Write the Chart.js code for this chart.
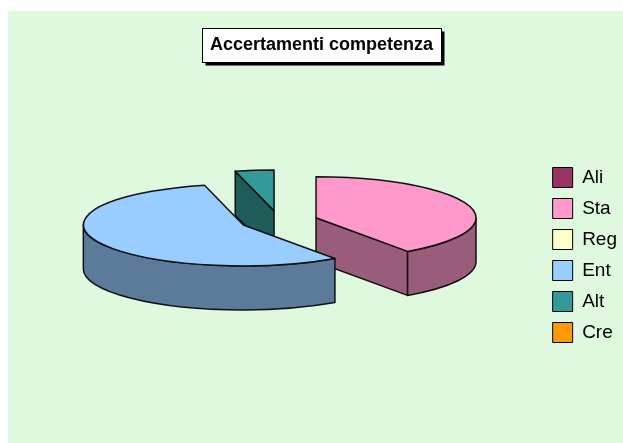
<!DOCTYPE html>
<html>
<head>
<meta charset="utf-8">
<script src="https://cdn.jsdelivr.net/npm/chart.js@4.4.1/dist/chart.umd.min.js"></script>
<style>
    html, body { margin: 0; padding: 0; background: #fff; }
    #wrap { position: absolute; left: 8px; top: 11px; width: 615px; height: 432px; background: #dff9df; }
</style>
</head>
<body>
<div id="wrap"><canvas id="pieChart" width="615" height="432"></canvas></div>
<script>
const titolo = 'Accertamenti competenza';
const categorie = ['Ali', 'Sta', 'Reg', 'Ent', 'Alt', 'Cre'];
const accertamenti = [0, 40.3, 0, 55.8, 3.9, 0];
const colori = ['#993366', '#ff99cc', '#ffffcc', '#99ccff', '#339999', '#ff9900'];

const FONT = "Arial, 'Liberation Sans', sans-serif";
const SPESSORE = 44;          // altezza del bordo della torta
const SCHIACCIA = 0.256;      // rapporto asse verticale / orizzontale

function scurisci(hex, f) {
    const n = parseInt(hex.slice(1), 16);
    const r = Math.round(((n >> 16) & 255) * f);
    const g = Math.round(((n >> 8) & 255) * f);
    const b = Math.round((n & 255) * f);
    return `rgb(${r},${g},${b})`;
}

// riquadro con ombra dietro al titolo
const riquadroTitolo = {
    id: 'riquadroTitolo',
    beforeDraw(chart) {
        const tb = chart.titleBlock;
        const opts = chart.options.plugins.title;
        const ctx = chart.ctx;
        ctx.save();
        ctx.font = `bold ${opts.font.size}px ${FONT}`;
        const w = ctx.measureText(titolo).width;
        const cx = (tb.left + tb.right) / 2;
        const cy = tb.top + opts.padding.top + opts.font.size * 1.2 / 2;
        const x = Math.round(cx - w / 2 - 8) + 0.5;
        const y = Math.round(cy - 17) + 0.5;
        const bw = Math.round(w + 16);
        const bh = 34;
        ctx.fillStyle = '#000';
        ctx.fillRect(x + 3, y + 3, bw, bh);
        ctx.fillStyle = '#fff';
        ctx.fillRect(x, y, bw, bh);
        ctx.strokeStyle = '#000';
        ctx.lineWidth = 1;
        ctx.strokeRect(x, y, bw, bh);
        ctx.restore();
    }
};

// disegna le fette come torta 3D esplosa partendo dagli archi di Chart.js
const torta3d = {
    id: 'torta3d',
    beforeDatasetsDraw(chart) {
        const ctx = chart.ctx;
        const meta = chart.getDatasetMeta(0);
        const fette = [];
        meta.data.forEach((arc, i) => {
            const s = arc.startAngle, e = arc.endAngle;
            if (e - s <= 0) return;
            const R = arc.outerRadius;
            const mid = (s + e) / 2;
            const off = arc.options.offset || 0;
            fette.push({
                s, e, R, ry: R * SCHIACCIA,
                x: arc.x + Math.cos(mid) * off,
                y: arc.y - SPESSORE / 2 + Math.sin(mid) * off * SCHIACCIA,
                colore: colori[i]
            });
        });
        fette.sort((a, b) => a.y - b.y);

        ctx.save();
        ctx.lineWidth = 1.5;
        ctx.strokeStyle = '#111';
        ctx.lineJoin = 'round';

        fette.forEach(f => {
            const lato = scurisci(f.colore, 0.6);
            const punto = a => [f.x + f.R * Math.cos(a), f.y + f.ry * Math.sin(a)];

            const parete = a => {
                const [px, py] = punto(a);
                ctx.beginPath();
                ctx.moveTo(f.x, f.y);
                ctx.lineTo(px, py);
                ctx.lineTo(px, py + SPESSORE);
                ctx.lineTo(f.x, f.y + SPESSORE);
                ctx.closePath();
                ctx.fillStyle = lato;
                ctx.fill();
                ctx.stroke();
            };
            if (Math.cos(f.s) < -0.01) parete(f.s);
            if (Math.cos(f.e) > 0.01) parete(f.e);

            // bordo esterno: solo la metà anteriore
            for (let k = -1; k <= 1; k++) {
                const a = Math.max(f.s, k * 2 * Math.PI);
                const b = Math.min(f.e, k * 2 * Math.PI + Math.PI);
                if (b <= a) continue;
                ctx.beginPath();
                ctx.ellipse(f.x, f.y, f.R, f.ry, 0, a, b);
                const [bx, by] = punto(b);
                ctx.lineTo(bx, by + SPESSORE);
                ctx.ellipse(f.x, f.y + SPESSORE, f.R, f.ry, 0, b, a, true);
                ctx.closePath();
                ctx.fillStyle = lato;
                ctx.fill();
                ctx.stroke();
            }

            // faccia superiore
            ctx.beginPath();
            ctx.moveTo(f.x, f.y);
            ctx.ellipse(f.x, f.y, f.R, f.ry, 0, f.s, f.e);
            ctx.closePath();
            ctx.fillStyle = f.colore;
            ctx.fill();
            ctx.stroke();
        });
        ctx.restore();
        return false;
    }
};

const ctx = document.getElementById('pieChart').getContext('2d');
new Chart(ctx, {
    type: 'pie',
    data: {
        labels: categorie,
        datasets: [{
            data: accertamenti,
            backgroundColor: colori,
            borderColor: '#000',
            borderWidth: 1,
            offset: 39
        }]
    },
    options: {
        responsive: false,
        animation: false,
        events: [],
        radius: 160,
        layout: { padding: { left: 8, right: -4, top: 0, bottom: 28 } },
        plugins: {
            title: {
                display: true,
                text: titolo,
                color: '#000',
                font: { family: FONT, size: 18, weight: 'bold' },
                padding: { top: 23, bottom: 15 }
            },
            legend: {
                position: 'right',
                // titolo vuoto usato solo per abbassare le voci
                title: { display: true, text: '', padding: { top: 69.6, bottom: 0 } },
                labels: {
                    color: '#000',
                    font: { family: FONT, size: 19 },
                    boxWidth: 20,
                    boxHeight: 20,
                    padding: 11
                }
            },
            tooltip: { enabled: false }
        }
    },
    plugins: [riquadroTitolo, torta3d]
});
</script>
</body>
</html>
